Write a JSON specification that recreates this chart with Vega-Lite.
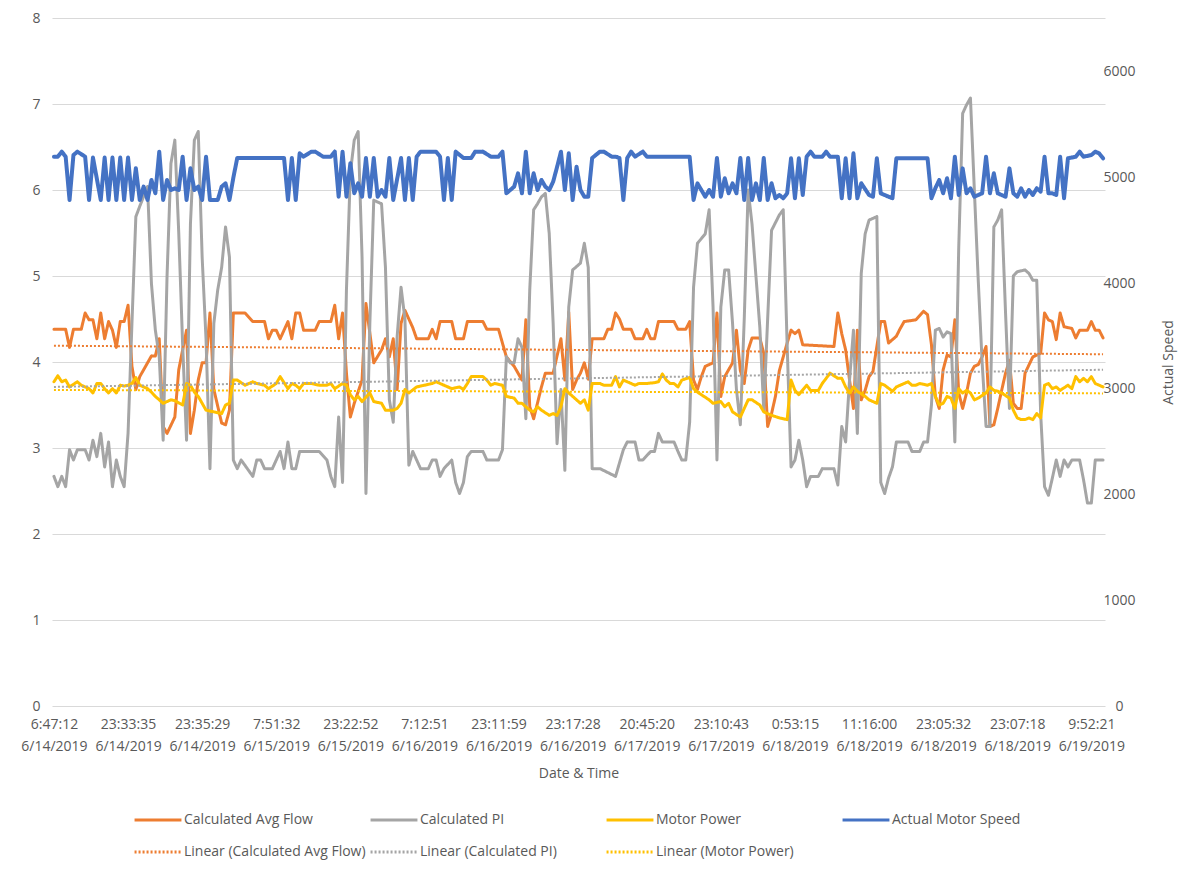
{
  "$schema": "https://vega.github.io/schema/vega-lite/v6.json",
  "width": 1053,
  "height": 688,
  "autosize": {"type": "none"},
  "padding": {"left": 52, "top": 18, "right": 95, "bottom": 168},
  "background": "#ffffff",
  "config": {
    "view": {"stroke": null},
    "font": "Open Sans",
    "axis": {
      "labelColor": "#595959",
      "labelFontSize": 14,
      "titleColor": "#595959",
      "titleFontSize": 14,
      "titleFontWeight": "normal",
      "domain": false,
      "ticks": false,
      "tickSize": 0
    },
    "legend": {
      "orient": "none",
      "legendX": 81,
      "legendY": 777,
      "columns": 4,
      "direction": "horizontal",
      "gridAlign": "all",
      "symbolType": "stroke",
      "symbolSize": 2200,
      "symbolStrokeWidth": 3,
      "labelFontSize": 14,
      "labelColor": "#595959",
      "labelOffset": 1,
      "columnPadding": -2,
      "rowPadding": -1,
      "padding": 0,
      "labelLimit": 300
    }
  },
  "datasets": {
    "flow": [{"i":0,"v":4.38},{"i":3,"v":4.38},{"i":4,"v":4.17},{"i":5,"v":4.38},{"i":7,"v":4.38},{"i":8,"v":4.57},{"i":9,"v":4.49},{"i":10,"v":4.49},{"i":11,"v":4.27},{"i":12,"v":4.57},{"i":13,"v":4.27},{"i":14,"v":4.47},{"i":15,"v":4.37},{"i":16,"v":4.17},{"i":17,"v":4.47},{"i":18,"v":4.47},{"i":19,"v":4.66},{"i":20,"v":3.95},{"i":21,"v":3.68},{"i":22,"v":3.83},{"i":24,"v":3.99},{"i":25,"v":4.07},{"i":26,"v":4.07},{"i":27,"v":4.27},{"i":28,"v":3.25},{"i":29,"v":3.17},{"i":31,"v":3.36},{"i":32,"v":3.91},{"i":34,"v":4.37},{"i":35,"v":3.17},{"i":36,"v":3.44},{"i":37,"v":3.79},{"i":38,"v":3.99},{"i":39,"v":3.99},{"i":40,"v":4.57},{"i":41,"v":3.68},{"i":43,"v":3.29},{"i":44,"v":3.27},{"i":45,"v":3.44},{"i":46,"v":4.57},{"i":49,"v":4.57},{"i":51,"v":4.47},{"i":54,"v":4.47},{"i":55,"v":4.27},{"i":56,"v":4.37},{"i":57,"v":4.37},{"i":58,"v":4.27},{"i":60,"v":4.47},{"i":61,"v":4.27},{"i":62,"v":4.57},{"i":63,"v":4.57},{"i":64,"v":4.37},{"i":67,"v":4.37},{"i":68,"v":4.47},{"i":71,"v":4.47},{"i":72,"v":4.66},{"i":73,"v":4.27},{"i":74,"v":4.57},{"i":75,"v":3.87},{"i":76,"v":3.36},{"i":77,"v":3.52},{"i":79,"v":3.79},{"i":80,"v":4.68},{"i":82,"v":3.99},{"i":84,"v":4.14},{"i":85,"v":4.27},{"i":86,"v":4.06},{"i":87,"v":4.27},{"i":88,"v":3.68},{"i":89,"v":4.45},{"i":90,"v":4.6},{"i":91,"v":4.5},{"i":92,"v":4.4},{"i":93,"v":4.27},{"i":96,"v":4.27},{"i":97,"v":4.38},{"i":98,"v":4.27},{"i":99,"v":4.47},{"i":102,"v":4.47},{"i":103,"v":4.27},{"i":105,"v":4.27},{"i":106,"v":4.47},{"i":110,"v":4.47},{"i":111,"v":4.38},{"i":114,"v":4.38},{"i":116,"v":4.06},{"i":118,"v":3.95},{"i":119,"v":3.87},{"i":120,"v":3.79},{"i":121,"v":4.49},{"i":122,"v":3.48},{"i":123,"v":3.34},{"i":125,"v":3.71},{"i":126,"v":3.87},{"i":128,"v":3.87},{"i":130,"v":4.27},{"i":131,"v":3.79},{"i":132,"v":4.58},{"i":133,"v":3.68},{"i":134,"v":3.79},{"i":135,"v":3.87},{"i":136,"v":3.99},{"i":137,"v":3.8},{"i":138,"v":4.27},{"i":141,"v":4.27},{"i":142,"v":4.38},{"i":143,"v":4.38},{"i":144,"v":4.57},{"i":145,"v":4.5},{"i":146,"v":4.38},{"i":148,"v":4.38},{"i":149,"v":4.27},{"i":151,"v":4.27},{"i":152,"v":4.38},{"i":153,"v":4.27},{"i":154,"v":4.27},{"i":155,"v":4.47},{"i":159,"v":4.47},{"i":160,"v":4.38},{"i":162,"v":4.38},{"i":163,"v":4.47},{"i":164,"v":3.79},{"i":165,"v":3.68},{"i":166,"v":3.83},{"i":167,"v":3.95},{"i":169,"v":3.99},{"i":170,"v":4.57},{"i":171,"v":3.6},{"i":172,"v":3.83},{"i":174,"v":3.99},{"i":175,"v":4.37},{"i":176,"v":3.9},{"i":177,"v":3.75},{"i":178,"v":4.14},{"i":179,"v":4.28},{"i":181,"v":4.28},{"i":182,"v":4.1},{"i":183,"v":3.25},{"i":184,"v":3.4},{"i":185,"v":3.6},{"i":186,"v":3.9},{"i":187,"v":4.06},{"i":188,"v":4.22},{"i":189,"v":4.37},{"i":190,"v":4.33},{"i":191,"v":4.37},{"i":192,"v":4.2},{"i":200,"v":4.18},{"i":201,"v":4.57},{"i":202,"v":4.33},{"i":203,"v":4.14},{"i":204,"v":3.79},{"i":205,"v":3.46},{"i":206,"v":4.37},{"i":207,"v":3.56},{"i":208,"v":3.67},{"i":209,"v":3.83},{"i":210,"v":3.89},{"i":212,"v":4.47},{"i":213,"v":4.47},{"i":214,"v":4.22},{"i":215,"v":4.26},{"i":216,"v":4.3},{"i":217,"v":4.39},{"i":218,"v":4.47},{"i":221,"v":4.49},{"i":223,"v":4.59},{"i":224,"v":4.55},{"i":225,"v":4.2},{"i":226,"v":3.6},{"i":227,"v":3.46},{"i":228,"v":3.91},{"i":229,"v":4.08},{"i":230,"v":4.06},{"i":231,"v":4.49},{"i":232,"v":3.64},{"i":233,"v":3.46},{"i":234,"v":3.64},{"i":235,"v":3.87},{"i":236,"v":3.95},{"i":237,"v":3.97},{"i":238,"v":4.06},{"i":239,"v":4.18},{"i":240,"v":3.25},{"i":241,"v":3.27},{"i":242,"v":3.46},{"i":243,"v":3.67},{"i":244,"v":3.87},{"i":245,"v":4.02},{"i":246,"v":3.52},{"i":247,"v":3.46},{"i":248,"v":3.46},{"i":249,"v":3.87},{"i":251,"v":4.06},{"i":252,"v":4.08},{"i":253,"v":4.1},{"i":254,"v":4.57},{"i":255,"v":4.49},{"i":256,"v":4.47},{"i":257,"v":4.26},{"i":258,"v":4.57},{"i":259,"v":4.41},{"i":261,"v":4.39},{"i":262,"v":4.28},{"i":263,"v":4.37},{"i":265,"v":4.37},{"i":266,"v":4.47},{"i":267,"v":4.37},{"i":268,"v":4.37},{"i":269,"v":4.28}],
    "pi": [{"i":0,"v":2.67},{"i":1,"v":2.55},{"i":2,"v":2.67},{"i":3,"v":2.55},{"i":4,"v":2.98},{"i":5,"v":2.86},{"i":6,"v":2.98},{"i":8,"v":2.98},{"i":9,"v":2.86},{"i":10,"v":3.09},{"i":11,"v":2.9},{"i":12,"v":3.17},{"i":13,"v":2.78},{"i":14,"v":3.07},{"i":15,"v":2.55},{"i":16,"v":2.86},{"i":17,"v":2.67},{"i":18,"v":2.55},{"i":19,"v":3.17},{"i":20,"v":4.45},{"i":21,"v":5.69},{"i":22,"v":5.81},{"i":24,"v":6.04},{"i":25,"v":4.91},{"i":26,"v":4.37},{"i":27,"v":4.06},{"i":28,"v":3.09},{"i":29,"v":5.0},{"i":30,"v":6.31},{"i":31,"v":6.58},{"i":32,"v":5.5},{"i":33,"v":4.2},{"i":34,"v":3.09},{"i":35,"v":5.61},{"i":36,"v":6.58},{"i":37,"v":6.68},{"i":38,"v":5.22},{"i":39,"v":4.26},{"i":40,"v":2.76},{"i":41,"v":4.45},{"i":42,"v":4.84},{"i":43,"v":5.1},{"i":44,"v":5.57},{"i":45,"v":5.22},{"i":46,"v":2.86},{"i":47,"v":2.76},{"i":48,"v":2.86},{"i":51,"v":2.67},{"i":52,"v":2.86},{"i":53,"v":2.86},{"i":54,"v":2.76},{"i":56,"v":2.76},{"i":57,"v":2.86},{"i":58,"v":2.96},{"i":59,"v":2.76},{"i":60,"v":3.07},{"i":61,"v":2.76},{"i":62,"v":2.76},{"i":63,"v":2.96},{"i":68,"v":2.96},{"i":70,"v":2.86},{"i":71,"v":2.67},{"i":72,"v":2.55},{"i":73,"v":3.36},{"i":74,"v":2.6},{"i":75,"v":4.84},{"i":76,"v":6.2},{"i":77,"v":6.58},{"i":78,"v":6.68},{"i":79,"v":5.22},{"i":80,"v":2.47},{"i":81,"v":4.45},{"i":82,"v":5.88},{"i":84,"v":5.84},{"i":85,"v":5.1},{"i":86,"v":3.56},{"i":87,"v":3.3},{"i":88,"v":4.3},{"i":89,"v":4.87},{"i":90,"v":4.5},{"i":91,"v":2.8},{"i":92,"v":2.96},{"i":93,"v":2.86},{"i":94,"v":2.76},{"i":96,"v":2.76},{"i":97,"v":2.86},{"i":98,"v":2.86},{"i":99,"v":2.67},{"i":100,"v":2.76},{"i":102,"v":2.86},{"i":103,"v":2.6},{"i":104,"v":2.47},{"i":105,"v":2.6},{"i":106,"v":2.9},{"i":107,"v":2.96},{"i":110,"v":2.96},{"i":111,"v":2.86},{"i":114,"v":2.86},{"i":115,"v":2.98},{"i":116,"v":4.06},{"i":117,"v":3.99},{"i":118,"v":3.99},{"i":119,"v":4.27},{"i":120,"v":4.17},{"i":121,"v":3.34},{"i":122,"v":4.84},{"i":123,"v":5.77},{"i":124,"v":5.84},{"i":125,"v":5.92},{"i":126,"v":5.96},{"i":127,"v":5.49},{"i":128,"v":4.45},{"i":129,"v":3.05},{"i":130,"v":3.68},{"i":131,"v":2.74},{"i":132,"v":4.64},{"i":133,"v":5.07},{"i":135,"v":5.15},{"i":136,"v":5.38},{"i":137,"v":5.1},{"i":138,"v":2.76},{"i":140,"v":2.76},{"i":144,"v":2.67},{"i":146,"v":2.98},{"i":147,"v":3.07},{"i":149,"v":3.07},{"i":150,"v":2.86},{"i":151,"v":2.86},{"i":153,"v":2.96},{"i":154,"v":2.96},{"i":155,"v":3.17},{"i":156,"v":3.07},{"i":159,"v":3.07},{"i":160,"v":2.96},{"i":161,"v":2.86},{"i":162,"v":2.86},{"i":163,"v":3.3},{"i":164,"v":4.87},{"i":165,"v":5.38},{"i":167,"v":5.49},{"i":168,"v":5.77},{"i":169,"v":4.64},{"i":170,"v":2.86},{"i":171,"v":4.64},{"i":172,"v":5.07},{"i":173,"v":5.07},{"i":174,"v":4.45},{"i":175,"v":3.68},{"i":176,"v":3.27},{"i":177,"v":4.5},{"i":178,"v":6.0},{"i":179,"v":5.6},{"i":180,"v":5.0},{"i":181,"v":4.4},{"i":182,"v":3.44},{"i":183,"v":4.5},{"i":184,"v":5.53},{"i":186,"v":5.71},{"i":187,"v":5.77},{"i":188,"v":4.2},{"i":189,"v":2.78},{"i":190,"v":2.86},{"i":191,"v":3.09},{"i":192,"v":2.86},{"i":193,"v":2.55},{"i":194,"v":2.67},{"i":196,"v":2.67},{"i":197,"v":2.76},{"i":200,"v":2.76},{"i":201,"v":2.57},{"i":202,"v":3.25},{"i":203,"v":3.07},{"i":204,"v":3.79},{"i":205,"v":4.37},{"i":206,"v":3.17},{"i":207,"v":5.03},{"i":208,"v":5.49},{"i":209,"v":5.65},{"i":210,"v":5.67},{"i":211,"v":5.69},{"i":212,"v":2.6},{"i":213,"v":2.47},{"i":214,"v":2.65},{"i":215,"v":2.78},{"i":216,"v":3.07},{"i":219,"v":3.07},{"i":220,"v":2.96},{"i":222,"v":2.96},{"i":223,"v":3.07},{"i":224,"v":3.07},{"i":225,"v":3.5},{"i":226,"v":4.37},{"i":227,"v":4.39},{"i":228,"v":4.29},{"i":229,"v":4.35},{"i":230,"v":4.33},{"i":231,"v":3.07},{"i":232,"v":5.34},{"i":233,"v":6.89},{"i":234,"v":6.99},{"i":235,"v":7.07},{"i":236,"v":6.0},{"i":237,"v":4.95},{"i":238,"v":3.99},{"i":239,"v":3.25},{"i":240,"v":3.25},{"i":241,"v":5.57},{"i":242,"v":5.65},{"i":243,"v":5.77},{"i":244,"v":4.57},{"i":245,"v":3.46},{"i":246,"v":5.0},{"i":247,"v":5.05},{"i":249,"v":5.07},{"i":250,"v":5.03},{"i":251,"v":4.95},{"i":252,"v":4.95},{"i":253,"v":3.4},{"i":254,"v":2.55},{"i":255,"v":2.45},{"i":256,"v":2.65},{"i":257,"v":2.86},{"i":258,"v":2.67},{"i":259,"v":2.86},{"i":260,"v":2.78},{"i":261,"v":2.86},{"i":263,"v":2.86},{"i":264,"v":2.63},{"i":265,"v":2.36},{"i":266,"v":2.36},{"i":267,"v":2.86},{"i":269,"v":2.86}],
    "power": [{"i":0,"v":3.77},{"i":1,"v":3.84},{"i":2,"v":3.77},{"i":3,"v":3.79},{"i":4,"v":3.71},{"i":5,"v":3.74},{"i":6,"v":3.77},{"i":7,"v":3.73},{"i":9,"v":3.69},{"i":10,"v":3.64},{"i":11,"v":3.75},{"i":12,"v":3.75},{"i":13,"v":3.69},{"i":14,"v":3.64},{"i":15,"v":3.69},{"i":16,"v":3.64},{"i":17,"v":3.73},{"i":18,"v":3.72},{"i":19,"v":3.73},{"i":20,"v":3.75},{"i":21,"v":3.82},{"i":22,"v":3.73},{"i":24,"v":3.69},{"i":25,"v":3.65},{"i":26,"v":3.6},{"i":28,"v":3.52},{"i":29,"v":3.54},{"i":30,"v":3.56},{"i":31,"v":3.55},{"i":33,"v":3.5},{"i":34,"v":3.75},{"i":35,"v":3.73},{"i":36,"v":3.65},{"i":37,"v":3.6},{"i":39,"v":3.44},{"i":40,"v":3.43},{"i":41,"v":3.42},{"i":43,"v":3.4},{"i":44,"v":3.5},{"i":45,"v":3.52},{"i":46,"v":3.79},{"i":47,"v":3.79},{"i":49,"v":3.73},{"i":51,"v":3.77},{"i":52,"v":3.75},{"i":54,"v":3.73},{"i":55,"v":3.69},{"i":57,"v":3.75},{"i":58,"v":3.83},{"i":60,"v":3.69},{"i":61,"v":3.75},{"i":62,"v":3.73},{"i":63,"v":3.69},{"i":64,"v":3.75},{"i":66,"v":3.75},{"i":68,"v":3.73},{"i":70,"v":3.73},{"i":71,"v":3.75},{"i":72,"v":3.69},{"i":74,"v":3.75},{"i":75,"v":3.73},{"i":76,"v":3.62},{"i":77,"v":3.56},{"i":78,"v":3.6},{"i":79,"v":3.54},{"i":81,"v":3.64},{"i":82,"v":3.54},{"i":84,"v":3.52},{"i":85,"v":3.44},{"i":87,"v":3.44},{"i":88,"v":3.46},{"i":89,"v":3.52},{"i":90,"v":3.68},{"i":91,"v":3.64},{"i":93,"v":3.71},{"i":94,"v":3.72},{"i":95,"v":3.73},{"i":97,"v":3.75},{"i":98,"v":3.77},{"i":99,"v":3.75},{"i":101,"v":3.71},{"i":102,"v":3.69},{"i":104,"v":3.71},{"i":105,"v":3.68},{"i":106,"v":3.75},{"i":107,"v":3.83},{"i":110,"v":3.83},{"i":111,"v":3.79},{"i":112,"v":3.73},{"i":113,"v":3.75},{"i":115,"v":3.73},{"i":116,"v":3.6},{"i":118,"v":3.58},{"i":119,"v":3.52},{"i":120,"v":3.52},{"i":122,"v":3.44},{"i":123,"v":3.42},{"i":124,"v":3.48},{"i":125,"v":3.44},{"i":127,"v":3.38},{"i":128,"v":3.4},{"i":129,"v":3.38},{"i":130,"v":3.48},{"i":131,"v":3.69},{"i":132,"v":3.64},{"i":134,"v":3.56},{"i":135,"v":3.52},{"i":136,"v":3.56},{"i":137,"v":3.44},{"i":138,"v":3.75},{"i":140,"v":3.75},{"i":141,"v":3.73},{"i":143,"v":3.73},{"i":144,"v":3.83},{"i":145,"v":3.71},{"i":146,"v":3.79},{"i":148,"v":3.75},{"i":149,"v":3.73},{"i":150,"v":3.75},{"i":152,"v":3.75},{"i":154,"v":3.76},{"i":155,"v":3.77},{"i":156,"v":3.86},{"i":157,"v":3.79},{"i":158,"v":3.75},{"i":159,"v":3.75},{"i":160,"v":3.71},{"i":161,"v":3.79},{"i":163,"v":3.82},{"i":164,"v":3.69},{"i":165,"v":3.65},{"i":166,"v":3.62},{"i":168,"v":3.56},{"i":169,"v":3.52},{"i":171,"v":3.54},{"i":172,"v":3.48},{"i":173,"v":3.52},{"i":174,"v":3.42},{"i":176,"v":3.36},{"i":178,"v":3.56},{"i":179,"v":3.56},{"i":181,"v":3.5},{"i":182,"v":3.42},{"i":184,"v":3.38},{"i":186,"v":3.35},{"i":188,"v":3.33},{"i":189,"v":3.79},{"i":190,"v":3.67},{"i":191,"v":3.62},{"i":193,"v":3.73},{"i":194,"v":3.67},{"i":196,"v":3.67},{"i":197,"v":3.75},{"i":198,"v":3.81},{"i":199,"v":3.87},{"i":201,"v":3.81},{"i":202,"v":3.81},{"i":203,"v":3.71},{"i":204,"v":3.64},{"i":205,"v":3.71},{"i":206,"v":3.66},{"i":208,"v":3.6},{"i":209,"v":3.56},{"i":211,"v":3.52},{"i":212,"v":3.75},{"i":213,"v":3.73},{"i":215,"v":3.66},{"i":216,"v":3.71},{"i":217,"v":3.73},{"i":219,"v":3.77},{"i":220,"v":3.73},{"i":221,"v":3.73},{"i":222,"v":3.75},{"i":224,"v":3.73},{"i":225,"v":3.75},{"i":226,"v":3.6},{"i":227,"v":3.5},{"i":228,"v":3.52},{"i":229,"v":3.6},{"i":230,"v":3.58},{"i":231,"v":3.46},{"i":232,"v":3.69},{"i":233,"v":3.64},{"i":234,"v":3.67},{"i":235,"v":3.64},{"i":236,"v":3.56},{"i":237,"v":3.58},{"i":239,"v":3.64},{"i":240,"v":3.71},{"i":241,"v":3.67},{"i":242,"v":3.66},{"i":243,"v":3.64},{"i":245,"v":3.58},{"i":246,"v":3.44},{"i":247,"v":3.35},{"i":248,"v":3.33},{"i":249,"v":3.33},{"i":250,"v":3.35},{"i":251,"v":3.33},{"i":252,"v":3.4},{"i":253,"v":3.35},{"i":254,"v":3.73},{"i":255,"v":3.75},{"i":256,"v":3.69},{"i":257,"v":3.71},{"i":258,"v":3.67},{"i":260,"v":3.73},{"i":261,"v":3.69},{"i":262,"v":3.83},{"i":263,"v":3.77},{"i":264,"v":3.81},{"i":265,"v":3.77},{"i":266,"v":3.83},{"i":267,"v":3.75},{"i":268,"v":3.73},{"i":269,"v":3.71}],
    "speed": [{"i":0,"v":5199},{"i":1,"v":5199},{"i":2,"v":5246},{"i":3,"v":5199},{"i":4,"v":4789},{"i":5,"v":5214},{"i":6,"v":5246},{"i":8,"v":5199},{"i":9,"v":4789},{"i":10,"v":5190},{"i":12,"v":4789},{"i":13,"v":5190},{"i":14,"v":4789},{"i":15,"v":5190},{"i":16,"v":4789},{"i":17,"v":5190},{"i":18,"v":4789},{"i":19,"v":5190},{"i":20,"v":4789},{"i":21,"v":5089},{"i":22,"v":4789},{"i":23,"v":4915},{"i":24,"v":4789},{"i":25,"v":4978},{"i":26,"v":4852},{"i":27,"v":5246},{"i":28,"v":4789},{"i":29,"v":4978},{"i":30,"v":4883},{"i":31,"v":4899},{"i":32,"v":4883},{"i":33,"v":5199},{"i":34,"v":4789},{"i":35,"v":5089},{"i":36,"v":4883},{"i":37,"v":4915},{"i":38,"v":4789},{"i":39,"v":5199},{"i":40,"v":4789},{"i":42,"v":4789},{"i":43,"v":4915},{"i":44,"v":4946},{"i":45,"v":4789},{"i":46,"v":5000},{"i":47,"v":5186},{"i":59,"v":5186},{"i":60,"v":4789},{"i":61,"v":5186},{"i":62,"v":4789},{"i":63,"v":5230},{"i":64,"v":5199},{"i":66,"v":5246},{"i":67,"v":5246},{"i":69,"v":5199},{"i":71,"v":5199},{"i":72,"v":5246},{"i":73,"v":4820},{"i":74,"v":5246},{"i":75,"v":4820},{"i":76,"v":5136},{"i":77,"v":4852},{"i":78,"v":4946},{"i":79,"v":4820},{"i":80,"v":5186},{"i":81,"v":4820},{"i":82,"v":5186},{"i":83,"v":4820},{"i":84,"v":4883},{"i":85,"v":4820},{"i":86,"v":5186},{"i":87,"v":4789},{"i":89,"v":5186},{"i":90,"v":4789},{"i":91,"v":5186},{"i":92,"v":4789},{"i":93,"v":5199},{"i":94,"v":5246},{"i":98,"v":5246},{"i":99,"v":5199},{"i":100,"v":4789},{"i":101,"v":5186},{"i":102,"v":4789},{"i":103,"v":5246},{"i":105,"v":5186},{"i":107,"v":5186},{"i":108,"v":5246},{"i":110,"v":5246},{"i":112,"v":5199},{"i":114,"v":5199},{"i":115,"v":5246},{"i":116,"v":4852},{"i":117,"v":4883},{"i":118,"v":4915},{"i":119,"v":5041},{"i":120,"v":4852},{"i":121,"v":5246},{"i":122,"v":4852},{"i":123,"v":5041},{"i":124,"v":4883},{"i":125,"v":4978},{"i":126,"v":4915},{"i":127,"v":4883},{"i":128,"v":4962},{"i":129,"v":5100},{"i":130,"v":5246},{"i":131,"v":4883},{"i":132,"v":5230},{"i":133,"v":4789},{"i":134,"v":5104},{"i":135,"v":4883},{"i":136,"v":4820},{"i":137,"v":4820},{"i":138,"v":5186},{"i":140,"v":5246},{"i":141,"v":5246},{"i":143,"v":5199},{"i":144,"v":5199},{"i":145,"v":5186},{"i":146,"v":4789},{"i":147,"v":5186},{"i":148,"v":5246},{"i":149,"v":5199},{"i":151,"v":5246},{"i":152,"v":5199},{"i":163,"v":5199},{"i":164,"v":4789},{"i":165,"v":4946},{"i":167,"v":4820},{"i":168,"v":4883},{"i":169,"v":4820},{"i":170,"v":5186},{"i":171,"v":4820},{"i":172,"v":4994},{"i":173,"v":4852},{"i":174,"v":4946},{"i":175,"v":4852},{"i":176,"v":5186},{"i":177,"v":4789},{"i":178,"v":5186},{"i":179,"v":4789},{"i":180,"v":4946},{"i":181,"v":4789},{"i":182,"v":5186},{"i":183,"v":4789},{"i":184,"v":4947},{"i":185,"v":4805},{"i":186,"v":4836},{"i":187,"v":4805},{"i":188,"v":4852},{"i":189,"v":5183},{"i":190,"v":4805},{"i":191,"v":5183},{"i":192,"v":4836},{"i":193,"v":5198},{"i":194,"v":5246},{"i":195,"v":5198},{"i":197,"v":5198},{"i":198,"v":5246},{"i":199,"v":5198},{"i":201,"v":5198},{"i":202,"v":4805},{"i":203,"v":5183},{"i":204,"v":4805},{"i":205,"v":5230},{"i":206,"v":4805},{"i":207,"v":4947},{"i":209,"v":4836},{"i":210,"v":4820},{"i":211,"v":5183},{"i":212,"v":4852},{"i":214,"v":4820},{"i":215,"v":4805},{"i":216,"v":5183},{"i":224,"v":5183},{"i":225,"v":4805},{"i":226,"v":4900},{"i":227,"v":4978},{"i":228,"v":4852},{"i":229,"v":4994},{"i":230,"v":4805},{"i":231,"v":5198},{"i":232,"v":4836},{"i":233,"v":5088},{"i":234,"v":4852},{"i":235,"v":4899},{"i":236,"v":4820},{"i":237,"v":4836},{"i":238,"v":4852},{"i":239,"v":5198},{"i":240,"v":4852},{"i":241,"v":5041},{"i":242,"v":4852},{"i":243,"v":4836},{"i":244,"v":4820},{"i":245,"v":5088},{"i":246,"v":4852},{"i":247,"v":4820},{"i":248,"v":4899},{"i":249,"v":4820},{"i":250,"v":4883},{"i":251,"v":4836},{"i":252,"v":4899},{"i":253,"v":4868},{"i":254,"v":5198},{"i":255,"v":4852},{"i":256,"v":4852},{"i":257,"v":4836},{"i":258,"v":5198},{"i":259,"v":4805},{"i":260,"v":5183},{"i":262,"v":5198},{"i":263,"v":5246},{"i":264,"v":5198},{"i":266,"v":5214},{"i":267,"v":5246},{"i":268,"v":5230},{"i":269,"v":5183}],
    "trendFlow": [{"i":0,"v":4.19},{"i":269,"v":4.09}],
    "trendPi": [{"i":0,"v":3.71},{"i":269,"v":3.91}],
    "trendPower": [{"i":0,"v":3.675},{"i":269,"v":3.635}]
  },
  "encoding": {
    "x": {
      "field": "i",
      "type": "quantitative",
      "scale": {"domain": [-0.5, 269.5], "nice": false, "zero": false},
      "axis": {
        "values": [0, 19, 38, 57, 76, 95, 114, 133, 152, 171, 190, 209, 228, 247, 266],
        "labelExpr": "[['6:47:12','6/14/2019'],['23:33:35','6/14/2019'],['23:35:29','6/14/2019'],['7:51:32','6/15/2019'],['23:22:52','6/15/2019'],['7:12:51','6/16/2019'],['23:11:59','6/16/2019'],['23:17:28','6/16/2019'],['20:45:20','6/17/2019'],['23:10:43','6/17/2019'],['0:53:15','6/18/2019'],['11:16:00','6/18/2019'],['23:05:32','6/18/2019'],['23:07:18','6/18/2019'],['9:52:21','6/19/2019']][round(datum.value / 19)]",
        "labelFlush": false,
        "labelOverlap": false,
        "labelBound": false,
        "labelPadding": 11,
        "labelLineHeight": 22,
        "grid": false,
        "title": "Date & Time",
        "titlePadding": 13
      }
    }
  },
  "layer": [
    {
      "encoding": {
        "y": {
          "field": "v",
          "type": "quantitative",
          "scale": {"domain": [0, 8], "nice": false},
          "axis": {
            "values": [0, 1, 2, 3, 4, 5, 6, 7, 8],
            "format": "d",
            "grid": true,
            "gridColor": "#d9d9d9",
            "labelPadding": 12,
            "title": null
          }
        }
      },
      "layer": [
        {
          "data": {"name": "flow"},
          "mark": {"type": "line", "strokeWidth": 3, "strokeJoin": "round", "strokeCap": "round"},
          "encoding": {
            "color": {"datum": "Calculated Avg Flow", "type": "nominal", "legend": {"title": null},
              "scale": {"domain": ["Calculated Avg Flow", "Calculated PI", "Motor Power", "Actual Motor Speed", "Linear (Calculated Avg Flow)", "Linear (Calculated PI)", "Linear (Motor Power)"],
                "range": ["#ED7D31", "#A5A5A5", "#FFC000", "#4472C4", "#ED7D31", "#A5A5A5", "#FFC000"]}},
            "strokeDash": {"datum": "Calculated Avg Flow", "type": "nominal", "legend": {"title": null},
              "scale": {"domain": ["Calculated Avg Flow", "Calculated PI", "Motor Power", "Actual Motor Speed", "Linear (Calculated Avg Flow)", "Linear (Calculated PI)", "Linear (Motor Power)"],
                "range": [[1, 0], [1, 0], [1, 0], [1, 0], [2, 2], [2, 2], [2, 2]]}}
          }
        },
        {
          "data": {"name": "pi"},
          "mark": {"type": "line", "strokeWidth": 3, "strokeJoin": "round", "strokeCap": "round"},
          "encoding": {
            "color": {"datum": "Calculated PI", "type": "nominal", "legend": {"title": null},
              "scale": {"domain": ["Calculated Avg Flow", "Calculated PI", "Motor Power", "Actual Motor Speed", "Linear (Calculated Avg Flow)", "Linear (Calculated PI)", "Linear (Motor Power)"],
                "range": ["#ED7D31", "#A5A5A5", "#FFC000", "#4472C4", "#ED7D31", "#A5A5A5", "#FFC000"]}},
            "strokeDash": {"datum": "Calculated PI", "type": "nominal", "legend": {"title": null},
              "scale": {"domain": ["Calculated Avg Flow", "Calculated PI", "Motor Power", "Actual Motor Speed", "Linear (Calculated Avg Flow)", "Linear (Calculated PI)", "Linear (Motor Power)"],
                "range": [[1, 0], [1, 0], [1, 0], [1, 0], [2, 2], [2, 2], [2, 2]]}}
          }
        },
        {
          "data": {"name": "power"},
          "mark": {"type": "line", "strokeWidth": 3, "strokeJoin": "round", "strokeCap": "round"},
          "encoding": {
            "color": {"datum": "Motor Power", "type": "nominal", "legend": {"title": null},
              "scale": {"domain": ["Calculated Avg Flow", "Calculated PI", "Motor Power", "Actual Motor Speed", "Linear (Calculated Avg Flow)", "Linear (Calculated PI)", "Linear (Motor Power)"],
                "range": ["#ED7D31", "#A5A5A5", "#FFC000", "#4472C4", "#ED7D31", "#A5A5A5", "#FFC000"]}},
            "strokeDash": {"datum": "Motor Power", "type": "nominal", "legend": {"title": null},
              "scale": {"domain": ["Calculated Avg Flow", "Calculated PI", "Motor Power", "Actual Motor Speed", "Linear (Calculated Avg Flow)", "Linear (Calculated PI)", "Linear (Motor Power)"],
                "range": [[1, 0], [1, 0], [1, 0], [1, 0], [2, 2], [2, 2], [2, 2]]}}
          }
        },
        {
          "data": {"name": "trendFlow"},
          "mark": {"type": "line", "strokeWidth": 2},
          "encoding": {
            "color": {"datum": "Linear (Calculated Avg Flow)", "type": "nominal", "legend": {"title": null},
              "scale": {"domain": ["Calculated Avg Flow", "Calculated PI", "Motor Power", "Actual Motor Speed", "Linear (Calculated Avg Flow)", "Linear (Calculated PI)", "Linear (Motor Power)"],
                "range": ["#ED7D31", "#A5A5A5", "#FFC000", "#4472C4", "#ED7D31", "#A5A5A5", "#FFC000"]}},
            "strokeDash": {"datum": "Linear (Calculated Avg Flow)", "type": "nominal", "legend": {"title": null},
              "scale": {"domain": ["Calculated Avg Flow", "Calculated PI", "Motor Power", "Actual Motor Speed", "Linear (Calculated Avg Flow)", "Linear (Calculated PI)", "Linear (Motor Power)"],
                "range": [[1, 0], [1, 0], [1, 0], [1, 0], [2, 2], [2, 2], [2, 2]]}}
          }
        },
        {
          "data": {"name": "trendPi"},
          "mark": {"type": "line", "strokeWidth": 2},
          "encoding": {
            "color": {"datum": "Linear (Calculated PI)", "type": "nominal", "legend": {"title": null},
              "scale": {"domain": ["Calculated Avg Flow", "Calculated PI", "Motor Power", "Actual Motor Speed", "Linear (Calculated Avg Flow)", "Linear (Calculated PI)", "Linear (Motor Power)"],
                "range": ["#ED7D31", "#A5A5A5", "#FFC000", "#4472C4", "#ED7D31", "#A5A5A5", "#FFC000"]}},
            "strokeDash": {"datum": "Linear (Calculated PI)", "type": "nominal", "legend": {"title": null},
              "scale": {"domain": ["Calculated Avg Flow", "Calculated PI", "Motor Power", "Actual Motor Speed", "Linear (Calculated Avg Flow)", "Linear (Calculated PI)", "Linear (Motor Power)"],
                "range": [[1, 0], [1, 0], [1, 0], [1, 0], [2, 2], [2, 2], [2, 2]]}}
          }
        },
        {
          "data": {"name": "trendPower"},
          "mark": {"type": "line", "strokeWidth": 2},
          "encoding": {
            "color": {"datum": "Linear (Motor Power)", "type": "nominal", "legend": {"title": null},
              "scale": {"domain": ["Calculated Avg Flow", "Calculated PI", "Motor Power", "Actual Motor Speed", "Linear (Calculated Avg Flow)", "Linear (Calculated PI)", "Linear (Motor Power)"],
                "range": ["#ED7D31", "#A5A5A5", "#FFC000", "#4472C4", "#ED7D31", "#A5A5A5", "#FFC000"]}},
            "strokeDash": {"datum": "Linear (Motor Power)", "type": "nominal", "legend": {"title": null},
              "scale": {"domain": ["Calculated Avg Flow", "Calculated PI", "Motor Power", "Actual Motor Speed", "Linear (Calculated Avg Flow)", "Linear (Calculated PI)", "Linear (Motor Power)"],
                "range": [[1, 0], [1, 0], [1, 0], [1, 0], [2, 2], [2, 2], [2, 2]]}}
          }
        }
      ]
    },
    {
      "data": {"name": "speed"},
      "mark": {"type": "line", "strokeWidth": 4, "strokeJoin": "round", "strokeCap": "round"},
      "encoding": {
        "y": {
          "field": "v",
          "type": "quantitative",
          "scale": {"domain": [0, 6511], "nice": false},
          "axis": {
            "orient": "right",
            "values": [0, 1000, 2000, 3000, 4000, 5000, 6000],
            "format": "d",
            "grid": false,
            "labelAlign": "center",
            "labelPadding": 14,
            "title": "Actual Speed",
            "titleAngle": 270,
            "titlePadding": 40
          }
        },
        "color": {"datum": "Actual Motor Speed", "type": "nominal", "legend": {"title": null},
          "scale": {"domain": ["Calculated Avg Flow", "Calculated PI", "Motor Power", "Actual Motor Speed", "Linear (Calculated Avg Flow)", "Linear (Calculated PI)", "Linear (Motor Power)"],
            "range": ["#ED7D31", "#A5A5A5", "#FFC000", "#4472C4", "#ED7D31", "#A5A5A5", "#FFC000"]}},
        "strokeDash": {"datum": "Actual Motor Speed", "type": "nominal", "legend": {"title": null},
          "scale": {"domain": ["Calculated Avg Flow", "Calculated PI", "Motor Power", "Actual Motor Speed", "Linear (Calculated Avg Flow)", "Linear (Calculated PI)", "Linear (Motor Power)"],
            "range": [[1, 0], [1, 0], [1, 0], [1, 0], [2, 2], [2, 2], [2, 2]]}}
      }
    }
  ],
  "resolve": {"scale": {"y": "independent"}}
}
